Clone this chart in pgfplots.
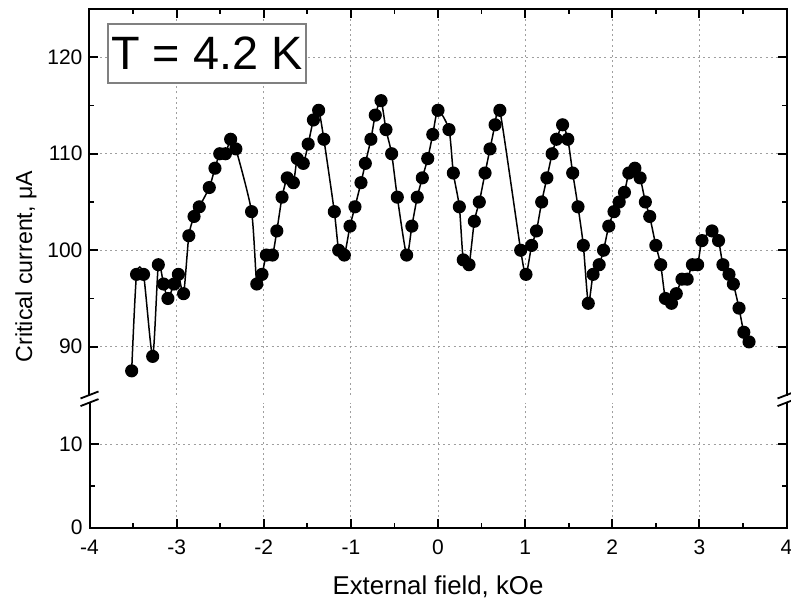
\documentclass[border=0pt]{standalone}
\usepackage{fontspec}
\setmainfont{Liberation Sans}
\usepackage{pgfplots}
\pgfplotsset{compat=1.18}

\pgfplotsset{
  brk/.style={
    scale only axis, width=348.5pt,
    xmin=-4, xmax=4,
    xtick={-4,-3,...,4}, minor xtick={-3.5,-2.5,...,3.5},
    tick align=inside,
    major tick length=4.5pt, minor tick length=2.5pt,
    every tick/.style={black, line width=0.9pt},
    axis line style={draw=none},
    grid=major,
    major grid style={gray!75, line width=0.5pt, dash pattern=on 1pt off 1.6pt},
    tick label style={font=\fontsize{10.5}{12}\selectfont},
    xticklabel style={yshift=-2.5pt},
    /pgf/number format/assume math mode=true,
    clip=false,
  },
}
\tikzset{brkmark/.style={line width=0.9pt}}

\begin{document}
\begin{tikzpicture}
\useasboundingbox (-44.75pt,-37.65pt) rectangle (350.75pt,263.85pt);

% lower part of the broken y axis
\begin{axis}[brk, name=lower, at={(0pt,0pt)}, anchor=south west,
  height=62.55pt, ymin=0, ymax=15,
  ytick={0,10}, minor ytick={5},
  xtick pos=left, ytick pos=both, yticklabel pos=left]
\draw[line width=1pt, line cap=rect] (rel axis cs:0,1) -- (rel axis cs:0,0) -- (rel axis cs:1,0) -- (rel axis cs:1,1);
\draw[brkmark] ([xshift=-4.5pt,yshift=-1.75pt]rel axis cs:0,1) -- ++(9pt,3.5pt);
\draw[brkmark] ([xshift=-4.5pt,yshift=-1.75pt]rel axis cs:1,1) -- ++(9pt,3.5pt);
\end{axis}

% upper part
\begin{axis}[brk, name=upper, at={(0pt,66.35pt)}, anchor=south west,
  height=193pt, ymin=85, ymax=125,
  ytick={90,100,110,120}, minor ytick={95,105,115},
  xtick pos=right, xticklabels={}, ytick pos=both, yticklabel pos=left]
\draw[line width=1pt, line cap=rect] (rel axis cs:0,0) -- (rel axis cs:0,1) -- (rel axis cs:1,1) -- (rel axis cs:1,0);
\draw[brkmark] ([xshift=-4.5pt,yshift=-1.75pt]rel axis cs:0,0) -- ++(9pt,3.5pt);
\draw[brkmark] ([xshift=-4.5pt,yshift=-1.75pt]rel axis cs:1,0) -- ++(9pt,3.5pt);
\addplot[black, line width=0.75pt, smooth, tension=0.4,
  mark=*, mark size=2.9pt, mark options={solid, fill=black}] coordinates {
  (-3.516,87.5) (-3.46,97.5) (-3.38,97.5) (-3.275,89.0) (-3.21,98.5)
  (-3.15,96.5) (-3.10,95.0) (-3.03,96.5) (-2.98,97.5) (-2.92,95.5)
  (-2.86,101.5) (-2.80,103.5) (-2.74,104.5) (-2.625,106.5) (-2.56,108.5)
  (-2.505,110.0) (-2.44,110.0) (-2.38,111.5) (-2.32,110.5) (-2.14,104.0)
  (-2.08,96.5) (-2.02,97.5) (-1.97,99.5) (-1.90,99.5) (-1.85,102.0)
  (-1.79,105.5) (-1.73,107.5) (-1.66,107.0) (-1.615,109.5) (-1.546,109.0)
  (-1.49,111.0) (-1.43,113.5) (-1.37,114.5) (-1.31,111.5) (-1.19,104.0)
  (-1.14,100.0) (-1.075,99.5) (-1.01,102.5) (-0.953,104.5) (-0.884,107.0)
  (-0.834,109.0) (-0.77,111.5) (-0.72,114.0) (-0.654,115.5) (-0.597,112.5)
  (-0.532,110.0) (-0.467,105.5) (-0.36,99.5) (-0.30,102.5) (-0.238,105.5)
  (-0.18,107.5) (-0.118,109.5) (-0.06,112.0) (0.00,114.5) (0.126,112.5)
  (0.176,108.0) (0.245,104.5) (0.29,99.0) (0.356,98.5) (0.417,103.0)
  (0.474,105.0) (0.54,108.0) (0.597,110.5) (0.655,113.0) (0.71,114.5)
  (0.949,100.0) (1.01,97.5) (1.075,100.5) (1.13,102.0) (1.19,105.0)
  (1.25,107.5) (1.31,110.0) (1.36,111.5) (1.43,113.0) (1.49,111.5)
  (1.546,108.0) (1.607,104.5) (1.668,100.5) (1.725,94.5) (1.78,97.5)
  (1.85,98.5) (1.90,100.0) (1.96,102.5) (2.02,104.0) (2.08,105.0)
  (2.14,106.0) (2.19,108.0) (2.26,108.5) (2.32,107.5) (2.38,105.0)
  (2.43,103.5) (2.50,100.5) (2.556,98.5) (2.61,95.0) (2.68,94.5)
  (2.735,95.5) (2.80,97.0) (2.86,97.0) (2.92,98.5) (2.98,98.5)
  (3.03,101.0) (3.145,102.0) (3.22,101.0) (3.27,98.5) (3.34,97.5)
  (3.39,96.5) (3.455,94.0) (3.51,91.5) (3.57,90.5)
};
\node[draw=gray, fill=white, line width=0.6pt, minimum width=99pt,
  minimum height=29.5pt, inner sep=0pt, font=\fontsize{23.4}{25}\selectfont]
  at (rel axis cs:0.1686,0.8847) {T = 4.2 K};
\end{axis}

\node[font=\fontsize{12.9}{14}\selectfont] at ([yshift=-29.6pt]lower.south) {External field, kOe};
\node[rotate=90, font=\fontsize{11.6}{13}\selectfont] at (-31.75pt,130.6pt) {Critical current, μA};
\end{tikzpicture}
\end{document}
